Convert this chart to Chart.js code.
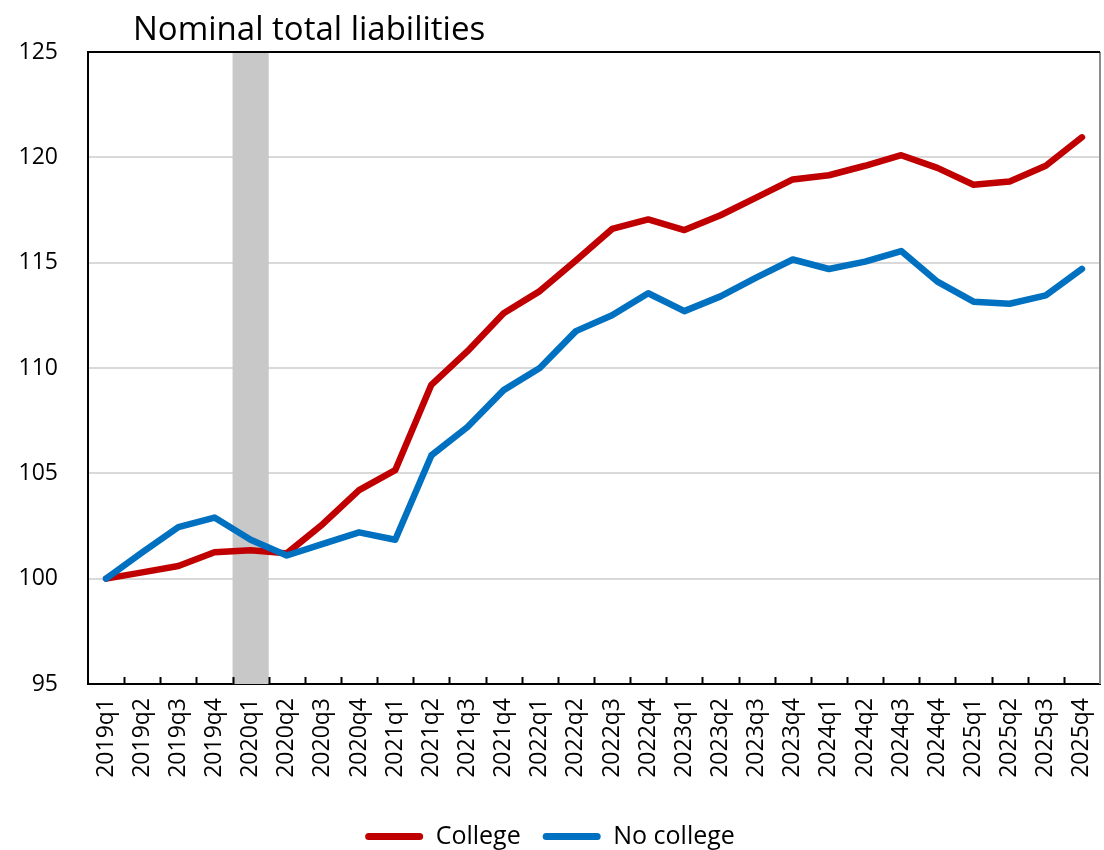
<!DOCTYPE html>
<html>
<head>
<meta charset="utf-8">
<title>Nominal total liabilities</title>
<script src="https://cdn.jsdelivr.net/npm/chart.js@4"></script>
<style>
  html, body { margin: 0; padding: 0; background: #ffffff; }
  #wrap { width: 1104px; height: 850px; position: relative; }
</style>
</head>
<body>
<div id="wrap"><canvas id="chart"></canvas></div>
<script>
// Quarter labels along the horizontal axis
const quarters = [
  '2019q1', '2019q2', '2019q3', '2019q4',
  '2020q1', '2020q2', '2020q3', '2020q4',
  '2021q1', '2021q2', '2021q3', '2021q4',
  '2022q1', '2022q2', '2022q3', '2022q4',
  '2023q1', '2023q2', '2023q3', '2023q4',
  '2024q1', '2024q2', '2024q3', '2024q4',
  '2025q1', '2025q2', '2025q3', '2025q4'
];

// Index values (2019q1 = 100)
const college = [
  100.0, 100.3, 100.6, 101.25,
  101.35, 101.2, 102.6, 104.2,
  105.15, 109.2, 110.8, 112.6,
  113.65, 115.1, 116.6, 117.05,
  116.55, 117.25, 118.1, 118.95,
  119.15, 119.6, 120.1, 119.5,
  118.7, 118.85, 119.6, 120.95
];

const noCollege = [
  100.0, 101.25, 102.45, 102.9,
  101.85, 101.1, 101.65, 102.2,
  101.85, 105.85, 107.2, 108.95,
  110.0, 111.75, 112.5, 113.55,
  112.7, 113.4, 114.3, 115.15,
  114.7, 115.05, 115.55, 114.1,
  113.15, 113.05, 113.45, 114.7
];

// Value-axis ticks
const yTicks = [95, 100, 105, 110, 115, 120, 125];

// Shaded recession quarter
const recessionQuarter = '2020q1';

const chartTitle = 'Nominal total liabilities';
const FONT = "'Open Sans', 'DejaVu Sans', sans-serif";

// Grey band behind the lines for the recession quarter
const recessionBand = {
  id: 'recessionBand',
  beforeDatasetsDraw(chart) {
    const x = chart.scales.x, area = chart.chartArea;
    const idx = quarters.indexOf(recessionQuarter);
    if (idx < 0) return;
    const step = x.getPixelForValue(1) - x.getPixelForValue(0);
    const cx = x.getPixelForValue(idx);
    const ctx = chart.ctx;
    ctx.save();
    ctx.fillStyle = '#c8c8c8';
    ctx.fillRect(cx - step / 2, area.top, step, area.bottom - area.top);
    ctx.restore();
  }
};

// Frame, inward tick marks on the category axis, and the title
const frameAndTitle = {
  id: 'frameAndTitle',
  afterDraw(chart) {
    const ctx = chart.ctx, area = chart.chartArea, x = chart.scales.x;
    ctx.save();
    // right edge
    ctx.strokeStyle = '#8c8c8c';
    ctx.lineWidth = 2;
    ctx.beginPath();
    ctx.moveTo(area.right, area.top);
    ctx.lineTo(area.right, area.bottom);
    ctx.stroke();
    // top edge
    ctx.strokeStyle = '#000000';
    ctx.lineWidth = 2;
    ctx.beginPath();
    ctx.moveTo(area.left, area.top);
    ctx.lineTo(area.right, area.top);
    ctx.stroke();
    // tick marks between quarters, pointing into the plot
    const step = x.getPixelForValue(1) - x.getPixelForValue(0);
    ctx.beginPath();
    for (let i = 1; i < quarters.length; i++) {
      const px = Math.round(x.getPixelForValue(i) - step / 2) + 0.5;
      ctx.moveTo(px, area.bottom);
      ctx.lineTo(px, area.bottom - 7);
    }
    ctx.lineWidth = 2;
    ctx.stroke();
    // title
    ctx.fillStyle = '#000000';
    ctx.font = '33px ' + FONT;
    ctx.textBaseline = 'alphabetic';
    ctx.textAlign = 'left';
    ctx.fillText(chartTitle, area.left + 45, 40);
    ctx.restore();
  }
};

const ctx = document.getElementById('chart').getContext('2d');
new Chart(ctx, {
  type: 'line',
  data: {
    labels: quarters,
    datasets: [
      {
        label: 'College',
        data: college,
        borderColor: '#c00000',
        backgroundColor: '#c00000',
        borderWidth: 6.5,
        pointRadius: 0,
        tension: 0,
        borderCapStyle: 'round',
        borderJoinStyle: 'round',
        order: 2
      },
      {
        label: 'No college',
        data: noCollege,
        borderColor: '#0070c0',
        backgroundColor: '#0070c0',
        borderWidth: 6.5,
        pointRadius: 0,
        tension: 0,
        borderCapStyle: 'round',
        borderJoinStyle: 'round',
        order: 1
      }
    ]
  },
  options: {
    responsive: true,
    maintainAspectRatio: false,
    animation: false,
    layout: { padding: { top: 52, right: 4, left: 0, bottom: -9 } },
    plugins: {
      title: { display: false },
      tooltip: { enabled: false },
      legend: {
        display: true,
        position: 'bottom',
        labels: {
          color: '#000000',
          font: { family: FONT, size: 25 },
          boxWidth: 58,
          boxHeight: 7,
          padding: 22,
          useBorderRadius: true,
          borderRadius: 3.5,
          generateLabels(chart) {
            return chart.data.datasets.map((ds, i) => ({
              text: ds.label,
              fillStyle: ds.borderColor,
              strokeStyle: ds.borderColor,
              lineWidth: 0,
              hidden: false,
              datasetIndex: i,
              borderRadius: 3.5,
              fontColor: '#000000'
            }));
          }
        }
      }
    },
    scales: {
      x: {
        type: 'category',
        offset: true,
        grid: { display: true, drawOnChartArea: false, drawTicks: false },
        border: { display: true, color: '#000000', width: 2 },
        ticks: {
          color: '#000000',
          font: { family: FONT, size: 23 },
          minRotation: 90,
          maxRotation: 90,
          autoSkip: false,
          padding: 14
        },
        afterFit(scale) {
          scale.height = 118;
          scale.paddingLeft = 0;
          scale.paddingRight = 0;
        }
      },
      y: {
        min: 95,
        max: 125,
        afterBuildTicks(scale) { scale.ticks = yTicks.map(v => ({ value: v })); },
        grid: {
          drawTicks: false,
          lineWidth: 2,
          color(c) {
            const v = c.tick && c.tick.value;
            return (v === 95 || v === 125) ? 'rgba(0,0,0,0)' : '#d9d9d9';
          }
        },
        border: { display: true, color: '#000000', width: 2 },
        ticks: {
          color: '#000000',
          font: { family: FONT, size: 23 },
          padding: 30
        },
        afterFit(scale) {
          scale.width = 88;
          scale.paddingTop = 0;
          scale.paddingBottom = 0;
        }
      }
    }
  },
  plugins: [recessionBand, frameAndTitle]
});
</script>
</body>
</html>
